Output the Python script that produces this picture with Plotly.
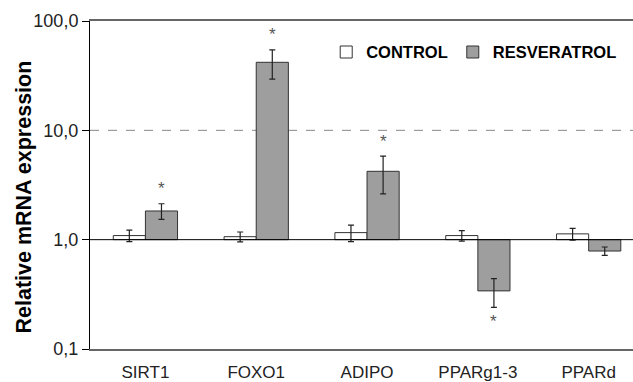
import math
import plotly.graph_objects as go

genes = ["SIRT1", "FOXO1", "ADIPO", "PPARg1-3", "PPARd"]
control = [1.09, 1.065, 1.16, 1.09, 1.13]
control_err = [0.13, 0.11, 0.20, 0.12, 0.14]
resveratrol = [1.83, 41.9, 4.22, 0.34, 0.787]
resveratrol_err = [0.30, 12.5, 1.6, 0.10, 0.07]
significant = [True, True, True, True, False]
ytick_vals = [0.1, 1, 10, 100]
ytick_text = ["0,1", "1,0", "10,0", "100,0"]
y_title = "Relative mRNA expression"

BASE = 1.0
xs = list(range(len(genes)))
FONT = "Liberation Sans, Arial, Helvetica, sans-serif"

fig = go.Figure()
fig.add_trace(go.Bar(
    name="CONTROL", x=xs, y=[v - BASE for v in control], base=BASE,
    marker=dict(color="white", line=dict(color="#333333", width=1)),
    error_y=dict(type="data", array=control_err, color="#222222", thickness=1.2, width=3),
))
fig.add_trace(go.Bar(
    name="RESVERATROL", x=xs, y=[v - BASE for v in resveratrol], base=BASE,
    marker=dict(color="#9e9e9e", line=dict(color="#333333", width=1)),
    error_y=dict(type="data", array=resveratrol_err, color="#222222", thickness=1.2, width=3),
))

# significance asterisks beyond the resveratrol error bars
off = 0.145
annotations = []
for i, (v, e, s) in enumerate(zip(resveratrol, resveratrol_err, significant)):
    if not s:
        continue
    up = v >= BASE
    tip = v + e if up else v - e
    annotations.append(dict(x=i + off, y=math.log10(tip), xref="x", yref="y",
                            text="*", showarrow=False, yanchor="middle",
                            yshift=15 if up else -14,
                            font=dict(size=17, color="#555555", family=FONT)))

# y-axis title (placed as rotated text so it sits where the original does)
annotations.append(dict(text=y_title, textangle=-90, showarrow=False,
                        xref="paper", yref="paper", x=-0.1215, y=0.462,
                        xanchor="center", yanchor="middle",
                        font=dict(size=21.5, family=FONT, color="black", weight="bold")))

shapes = [
    dict(type="line", xref="paper", x0=0, x1=1, yref="y", y0=BASE, y1=BASE,
         line=dict(color="black", width=1), layer="above"),
    dict(type="line", xref="paper", x0=0, x1=1, yref="y", y0=10, y1=10,
         line=dict(color="#888888", width=1, dash="dash"), layer="below"),
]
for b in range(len(genes) - 1):
    shapes.append(dict(type="line", xref="x", x0=b + 0.5, x1=b + 0.5,
                       yref="y", ysizemode="pixel", yanchor=BASE, y0=0, y1=-6,
                       line=dict(color="black", width=1)))

fig.update_layout(
    width=633, height=382,
    margin=dict(l=90, r=0, t=21, b=33, autoexpand=False),
    paper_bgcolor="white", plot_bgcolor="white",
    barmode="group", bargap=0.42, bargroupgap=0,
    font=dict(family=FONT, color="#222222"),
    shapes=shapes, annotations=annotations,
    legend=dict(orientation="h", x=0.435, y=0.958, xanchor="left", yanchor="top",
                font=dict(size=16.5, family=FONT, color="black", weight="bold"),
                bgcolor="rgba(0,0,0,0)", itemwidth=30, traceorder="normal"),
    xaxis=dict(range=[-0.5, 4.4], tickvals=xs, ticktext=genes, showgrid=False,
               zeroline=False, showline=True, linecolor="#666666", linewidth=2,
               mirror=True, ticks="outside", ticklen=7, tickcolor="rgba(0,0,0,0)",
               automargin=False,
               tickfont=dict(size=17, family=FONT, color="#222222")),
    yaxis=dict(type="log", range=[-1, 2], tickvals=ytick_vals, ticktext=ytick_text,
               showgrid=False, zeroline=False, showline=True, linecolor="black", linewidth=1,
               ticks="outside", ticklen=7, tickcolor="black", automargin=False,
               tickfont=dict(size=18, family=FONT, color="#222222")),
)
fig.write_html("out.html", config={"displayModeBar": False},
               post_script="document.body.style.margin='0';")
